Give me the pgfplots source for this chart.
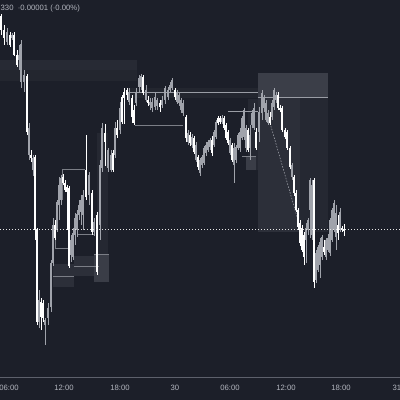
\documentclass[border=0pt]{standalone}
\usepackage{pgfplots}
\pgfplotsset{compat=1.18}
\usepackage{pgfplotstable}
\usepackage{fontspec}
\setmainfont{Liberation Sans}

\definecolor{bg}{HTML}{1C1F29}
\definecolor{bandA}{HTML}{272A34}
\definecolor{bandB}{HTML}{23262F}
\definecolor{boxtop}{HTML}{3B3E48}
\definecolor{boxleft}{HTML}{2C2F39}
\definecolor{boxright}{HTML}{252832}
\definecolor{boxlight}{HTML}{3A3D47}
\definecolor{zline}{HTML}{9A9DA5}
\definecolor{oline}{HTML}{7B7E86}
\definecolor{upc}{HTML}{FFFFFF}
\definecolor{dnc}{HTML}{A0A3AB}
\definecolor{labelgray}{HTML}{B2B5BE}
\definecolor{axisgray}{HTML}{5D606B}
\definecolor{dim}{HTML}{6A6D75}

% candles in screen units: x = pixel column, y = pixel row (axis reversed)
% wt/wb = wick top/bottom, bt/bb = body top/bottom
\pgfplotstableread{
x wt wb bt bb
1 14 35 16 30
4 25 45 30 38
10 32 47 35 45
14 32 56 35 55
17 50 67 55 65
27 74 135 76 132
31 150 162 155 158
35 155 240 157 230
37 228 325 230 322
41 298 330 302 317
43 300 322 303 318
55 220 240 225 238
63 174 185 177 183
65 180 192 183 190
67 185 230 187 192
69 186 268 188 266
86 135 200 170 197
92 190 235 193 232
97 212 275 215 272
105 124 166 133 142
113 150 172 153 170
117 120 138 128 135
122 95 124 97 122
124 88 124 92 98
127 88 100 90 95
132 95 123 98 117
134 105 125 110 123
143 75 95 77 93
148 96 106 100 103
160 100 112 103 107
175 88 100 90 97
186 115 142 117 138
190 132 146 135 143
194 136 154 138 152
198 155 170 157 167
212 136 156 140 153
218 116 125 118 123
220 116 124 118 122
224 116 130 118 128
226 123 140 125 138
228 130 145 132 143
232 143 162 145 160
248 128 152 130 150
256 128 150 132 148
270 112 125 117 123
278 92 110 95 108
280 105 112 108 110
282 106 132 108 130
285 128 139 130 137
287 130 150 132 148
290 146 169 148 167
294 175 196 177 193
296 190 212 193 210
298 208 230 210 227
300 220 246 223 243
302 225 252 228 250
304 232 265 235 257
314 178 288 180 282
324 240 255 247 252
338 215 240 225 233
342 226 232 228 230
344 224 236 229 231
}\upcandles

\pgfplotstableread{
x wt wb bt bb
7 28 45 32 42
12 33 40 35 38
19 45 70 55 60
21 40 88 44 82
24 70 92 75 82
29 123 160 128 155
33 155 176 158 170
39 290 328 300 322
45 318 345 320 325
48 303 325 308 318
51 260 312 263 307
53 218 266 225 263
57 200 232 202 230
59 177 220 185 205
61 175 205 178 200
71 235 262 240 255
73 228 260 233 257
75 213 245 218 235
77 210 237 214 230
79 200 220 205 215
81 195 225 200 212
83 190 230 195 215
89 172 205 175 195
94 218 236 222 232
100 160 240 165 225
102 123 172 128 168
108 148 172 150 168
111 150 172 155 170
115 122 158 128 155
120 102 134 108 130
129 88 105 92 102
136 88 106 92 103
139 75 93 78 87
141 74 90 76 87
146 85 102 90 100
150 98 110 102 105
152 98 112 102 108
155 93 110 97 107
157 98 110 100 106
162 96 108 100 105
165 86 104 88 100
168 87 100 90 97
170 82 92 85 90
172 78 90 80 88
177 90 104 93 102
179 92 106 95 103
181 98 113 100 110
183 100 116 103 113
188 130 145 133 142
192 134 148 137 145
196 142 162 145 160
200 158 176 160 173
202 155 168 157 165
204 146 165 148 163
206 142 156 145 153
208 140 152 142 150
210 138 150 140 147
214 130 147 132 145
216 120 139 122 137
222 115 124 118 122
230 138 155 140 153
234 143 183 148 165
236 145 163 147 160
238 133 150 135 148
240 128 152 132 148
242 116 140 118 138
244 108 140 110 137
246 125 152 128 148
250 125 160 135 148
252 110 128 113 125
254 103 130 108 128
259 107 142 112 132
262 90 120 93 113
264 95 112 97 108
266 100 122 103 120
268 110 125 113 123
272 100 120 103 117
274 88 110 90 107
276 92 103 95 100
292 163 180 165 177
306 223 263 228 240
308 218 235 220 230
310 178 238 180 210
312 180 240 185 235
316 250 283 253 280
318 245 272 247 270
320 238 278 242 265
322 235 260 237 257
326 238 260 240 257
328 234 252 238 250
330 218 256 220 253
332 208 242 210 240
334 200 232 203 230
336 205 250 213 237
340 208 232 212 230
}\downcandles

\pgfplotsset{
  zone/.style={fill=#1, draw=none, forget plot},
  hl/.style={draw=#1, line width=0.7pt, forget plot},
  wick/.style={draw=none, mark=none, forget plot,
    error bars/.cd, y dir=plus, y explicit, error mark=none,
    error bar style={draw=#1, line width=0.6pt}},
  body/.style={draw=none, mark=none, forget plot,
    error bars/.cd, y dir=plus, y explicit, error mark=none,
    error bar style={draw=#1, line width=1.6pt}},
}

\begin{document}
\begin{tikzpicture}
\fill[bg] (0,0) rectangle (400pt,400pt);
\useasboundingbox (0,0) rectangle (400pt,400pt);
\begin{axis}[
  at={(0pt,22pt)}, anchor=south west,
  scale only axis, width=400pt, height=378pt,
  xmin=0, xmax=400, ymin=0, ymax=378, y dir=reverse,
  axis line style={draw=none},
  xtick={9,64,120,175,230,286,341,397},
  xticklabels={06:00,12:00,18:00,30,06:00,12:00,18:00,31},
  ytick=\empty,
  major tick length=0pt,
  xticklabel style={font=\fontsize{7.7}{9}\selectfont, text=labelgray, yshift=-3.5pt},
]
% zones
\addplot[zone=bandA] coordinates {(0,60) (137,60) (137,70) (0,70)} --cycle;
\addplot[zone=bandB] coordinates {(0,70) (137,70) (137,81) (0,81)} --cycle;
\addplot[zone=bandB] coordinates {(128,88) (258,88) (258,98) (128,98)} --cycle;
\addplot[zone=boxtop] coordinates {(258,73) (328,73) (328,98) (258,98)} --cycle;
\addplot[zone=boxleft] coordinates {(258,98) (300,98) (300,232) (258,232)} --cycle;
\addplot[zone=boxright] coordinates {(300,98) (328,98) (328,232) (300,232)} --cycle;
\addplot[zone=boxright] coordinates {(248,99) (258,99) (258,170) (248,170)} --cycle;
\addplot[zone=boxlight] coordinates {(246,156) (256,156) (256,170) (246,170)} --cycle;
\addplot[zone=boxright] coordinates {(97,133) (108,133) (108,255) (97,255)} --cycle;
\addplot[zone=boxleft] coordinates {(53,264) (74,264) (74,287) (53,287)} --cycle;
\addplot[zone=boxleft] coordinates {(74,256) (99,256) (99,276) (74,276)} --cycle;
\addplot[zone=boxlight] coordinates {(94,255) (109,255) (109,282) (94,282)} --cycle;
% level lines
\addplot[hl=zline] coordinates {(128,92) (258,92)};
\addplot[hl=zline] coordinates {(258,97) (328,97)};
\addplot[hl=zline] coordinates {(228,111) (258,111)};
\addplot[hl=oline] coordinates {(242,156) (256,156)};
\addplot[hl=oline] coordinates {(135,125) (183,125)};
\addplot[hl=oline] coordinates {(62,200) (62,169) (85,169)};
\addplot[hl=oline] coordinates {(55,228) (55,248) (71,248)};
\addplot[hl=oline] coordinates {(78,234) (95,234)};
\addplot[hl=oline] coordinates {(74,266) (99,266)};
\addplot[hl=oline] coordinates {(53,276) (74,276)};
\addplot[hl=oline] coordinates {(94,254) (109,254)};
\addplot[draw=zline, line width=0.6pt, dash pattern=on 1.5pt off 1.5pt, forget plot]
  coordinates {(270,123) (300,227)};
% candles
\addplot[wick=dnc] table[x=x, y=wt, y error expr=\thisrow{wb}-\thisrow{wt}] {\downcandles};
\addplot[body=dnc] table[x=x, y=bt, y error expr=\thisrow{bb}-\thisrow{bt}] {\downcandles};
\addplot[wick=upc] table[x=x, y=wt, y error expr=\thisrow{wb}-\thisrow{wt}] {\upcandles};
\addplot[body=upc] table[x=x, y=bt, y error expr=\thisrow{bb}-\thisrow{bt}] {\upcandles};
% last price line and bottom axis line
\addplot[draw=white!80!gray, line width=0.8pt, dash pattern=on 1pt off 2pt, forget plot]
  coordinates {(0,229.5) (400,229.5)};
\addplot[draw=axisgray, line width=1pt, forget plot] coordinates {(0,377.5) (400,377.5)};
\node[anchor=west, inner sep=0pt, text=labelgray, font=\fontsize{7.7}{9}\selectfont]
  at (axis cs:0.5,9) {330 \ {\color{dim}-}0.00001 ({\color{dim}-}0.00\%)};
\end{axis}
\end{tikzpicture}
\end{document}
